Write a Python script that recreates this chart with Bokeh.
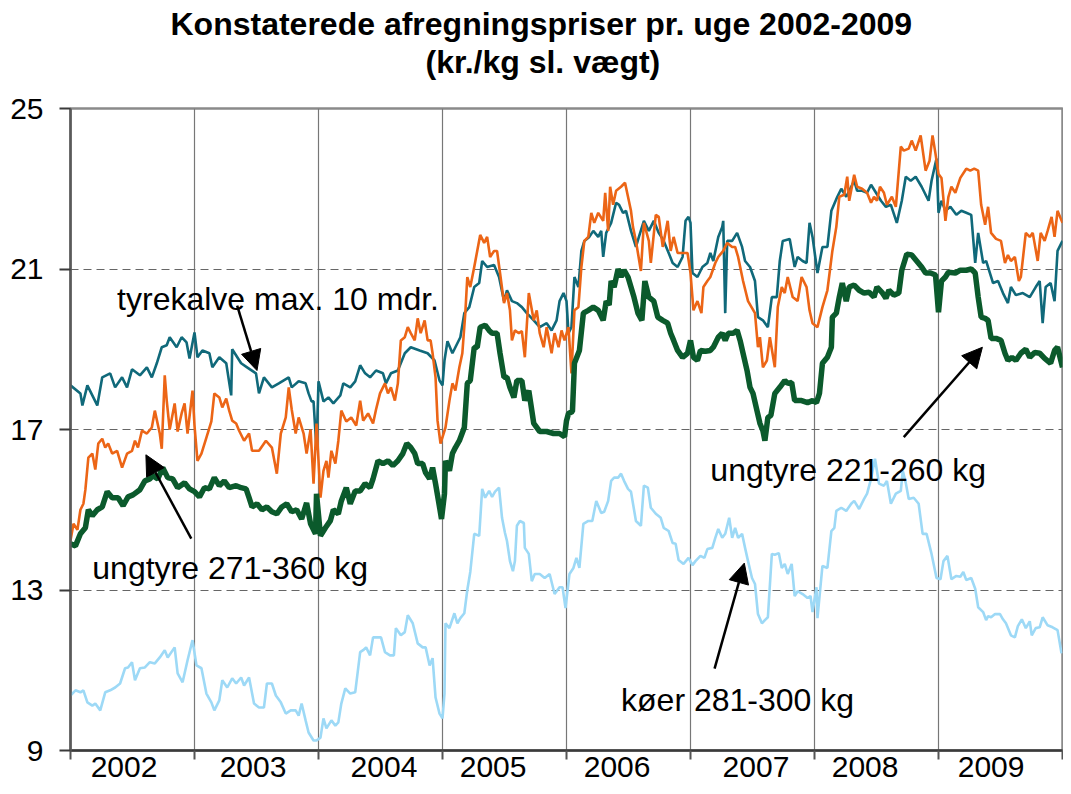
from bokeh.plotting import figure
from bokeh.models import FixedTicker, Label, Arrow, NormalHead, Range1d, Title
from bokeh.embed import file_html
from bokeh.resources import INLINE

# ---------------- data (x = fractional year, y = kr./kg) ----------------
tyrekalve_x = [2002.000, 2002.080, 2002.096, 2002.136, 2002.184, 2002.216, 2002.256, 2002.320, 2002.360, 2002.416,
               2002.456, 2002.496, 2002.560, 2002.616, 2002.656, 2002.696, 2002.736, 2002.776, 2002.800, 2002.856,
               2002.896, 2002.936, 2002.960, 2003.000, 2003.024, 2003.064, 2003.120, 2003.144, 2003.200, 2003.256,
               2003.296, 2003.304, 2003.376, 2003.424, 2003.496, 2003.520, 2003.560, 2003.624, 2003.680, 2003.760,
               2003.784, 2003.840, 2003.896, 2003.920, 2003.944, 2003.960, 2003.984, 2004.000, 2004.040, 2004.080,
               2004.120, 2004.176, 2004.200, 2004.256, 2004.296, 2004.336, 2004.376, 2004.416, 2004.464, 2004.520,
               2004.544, 2004.584, 2004.640, 2004.696, 2004.744, 2004.816, 2004.880, 2004.936, 2004.976, 2005.000,
               2005.016, 2005.040, 2005.080, 2005.104, 2005.144, 2005.176, 2005.216, 2005.256, 2005.296, 2005.320,
               2005.360, 2005.416, 2005.456, 2005.496, 2005.520, 2005.560, 2005.600, 2005.640, 2005.680, 2005.736,
               2005.784, 2005.840, 2005.880, 2005.920, 2005.944, 2005.976, 2006.000, 2006.016, 2006.040, 2006.064,
               2006.096, 2006.120, 2006.144, 2006.184, 2006.216, 2006.256, 2006.280, 2006.296, 2006.320, 2006.360,
               2006.400, 2006.424, 2006.456, 2006.480, 2006.520, 2006.560, 2006.584, 2006.624, 2006.664, 2006.704,
               2006.744, 2006.784, 2006.824, 2006.856, 2006.896, 2006.936, 2006.960, 2006.984, 2007.000, 2007.016,
               2007.056, 2007.096, 2007.136, 2007.160, 2007.184, 2007.224, 2007.256, 2007.264, 2007.280, 2007.296,
               2007.336, 2007.376, 2007.416, 2007.440, 2007.480, 2007.520, 2007.544, 2007.584, 2007.624, 2007.656,
               2007.696, 2007.720, 2007.744, 2007.800, 2007.840, 2007.864, 2007.904, 2007.936, 2007.960, 2007.984,
               2008.024, 2008.064, 2008.104, 2008.136, 2008.184, 2008.216, 2008.256, 2008.320, 2008.344, 2008.384,
               2008.424, 2008.456, 2008.496, 2008.536, 2008.576, 2008.616, 2008.664, 2008.704, 2008.736, 2008.776,
               2008.816, 2008.864, 2008.920, 2008.944, 2008.984, 2009.000, 2009.024, 2009.056, 2009.096, 2009.144,
               2009.184, 2009.224, 2009.264, 2009.296, 2009.320, 2009.360, 2009.384, 2009.440, 2009.480, 2009.520,
               2009.560, 2009.584, 2009.624, 2009.680, 2009.736, 2009.784, 2009.816, 2009.840, 2009.864, 2009.904,
               2009.936, 2009.960, 2010.000]
tyrekalve_y = [18.10, 17.90, 17.60, 18.10, 17.80, 17.60, 18.30, 18.40, 18.05, 18.30,
               18.05, 18.50, 18.35, 18.55, 18.30, 18.65, 19.05, 19.10, 19.30, 19.05,
               19.30, 19.17, 18.77, 19.42, 18.80, 18.97, 18.90, 18.55, 18.80, 18.65,
               17.85, 19.00, 18.65, 18.55, 18.40, 17.90, 18.30, 18.05, 18.15, 18.30,
               18.05, 18.20, 18.15, 17.90, 17.70, 17.70, 16.50, 18.20, 17.70, 17.80,
               17.65, 17.85, 18.15, 18.05, 18.20, 18.60, 18.40, 18.30, 18.47, 18.40,
               18.15, 18.40, 18.47, 18.90, 19.05, 18.97, 18.90, 18.72, 18.22, 18.10,
               18.72, 19.20, 18.90, 19.05, 19.30, 19.90, 20.05, 20.55, 20.65, 21.20,
               21.05, 21.10, 20.80, 20.20, 20.47, 20.20, 20.15, 20.05, 19.90, 19.72,
               19.55, 19.65, 19.47, 19.72, 20.20, 20.40, 20.20, 19.40, 19.55, 20.80,
               20.55, 21.45, 21.70, 21.80, 21.95, 21.80, 21.95, 21.30, 21.90, 22.15,
               22.65, 22.60, 22.40, 22.45, 21.95, 21.55, 21.80, 22.20, 21.95, 22.20,
               21.90, 21.70, 21.40, 21.15, 21.05, 21.30, 22.20, 22.30, 22.15, 20.90,
               20.80, 21.05, 21.15, 21.40, 21.20, 21.80, 22.05, 22.20, 19.90, 21.70,
               21.70, 21.90, 21.55, 21.20, 21.05, 20.70, 19.80, 19.72, 19.55, 20.30,
               20.30, 21.20, 21.70, 21.75, 21.05, 21.30, 21.20, 21.15, 22.15, 21.80,
               20.90, 21.55, 21.55, 22.45, 22.80, 23.00, 22.80, 23.20, 22.95, 22.95,
               22.90, 23.10, 22.90, 22.70, 22.55, 22.60, 22.15, 22.70, 23.30, 23.20,
               23.30, 23.05, 22.70, 23.20, 23.75, 22.40, 22.70, 22.45, 22.55, 22.35,
               22.45, 22.40, 22.35, 21.15, 21.90, 21.15, 21.20, 20.65, 20.70, 20.40,
               20.15, 20.55, 20.35, 20.40, 20.30, 20.55, 20.70, 19.65, 20.55, 20.65,
               20.20, 21.45, 21.70]

ungtyre_271_x = [2002.000, 2002.024, 2002.056, 2002.080, 2002.104, 2002.120, 2002.144, 2002.176, 2002.200, 2002.224,
                 2002.256, 2002.280, 2002.304, 2002.336, 2002.376, 2002.416, 2002.456, 2002.496, 2002.520, 2002.544,
                 2002.576, 2002.616, 2002.656, 2002.680, 2002.720, 2002.736, 2002.760, 2002.776, 2002.800, 2002.840,
                 2002.864, 2002.896, 2002.920, 2002.944, 2002.984, 2003.000, 2003.024, 2003.056, 2003.096, 2003.136,
                 2003.160, 2003.200, 2003.224, 2003.256, 2003.280, 2003.304, 2003.336, 2003.360, 2003.400, 2003.440,
                 2003.464, 2003.520, 2003.576, 2003.624, 2003.664, 2003.696, 2003.736, 2003.760, 2003.784, 2003.816,
                 2003.840, 2003.880, 2003.904, 2003.936, 2003.960, 2003.984, 2004.016, 2004.040, 2004.064, 2004.080,
                 2004.104, 2004.136, 2004.160, 2004.184, 2004.224, 2004.264, 2004.304, 2004.336, 2004.360, 2004.400,
                 2004.440, 2004.464, 2004.496, 2004.536, 2004.560, 2004.584, 2004.616, 2004.640, 2004.664, 2004.696,
                 2004.720, 2004.744, 2004.776, 2004.800, 2004.824, 2004.856, 2004.880, 2004.904, 2004.920, 2004.944,
                 2004.960, 2004.984, 2005.024, 2005.056, 2005.080, 2005.104, 2005.136, 2005.160, 2005.184, 2005.200,
                 2005.224, 2005.256, 2005.280, 2005.304, 2005.336, 2005.360, 2005.384, 2005.416, 2005.440, 2005.464,
                 2005.496, 2005.520, 2005.544, 2005.560, 2005.584, 2005.616, 2005.640, 2005.664, 2005.696, 2005.736,
                 2005.760, 2005.784, 2005.816, 2005.840, 2005.880, 2005.904, 2005.936, 2005.960, 2005.984, 2006.016,
                 2006.040, 2006.064, 2006.096, 2006.120, 2006.144, 2006.176, 2006.200, 2006.224, 2006.256, 2006.296,
                 2006.312, 2006.336, 2006.352, 2006.376, 2006.400, 2006.440, 2006.472, 2006.496, 2006.520, 2006.536,
                 2006.560, 2006.600, 2006.624, 2006.664, 2006.680, 2006.720, 2006.744, 2006.776, 2006.816, 2006.840,
                 2006.864, 2006.896, 2006.936, 2006.976, 2007.000, 2007.024, 2007.056, 2007.088, 2007.104, 2007.136,
                 2007.160, 2007.200, 2007.224, 2007.264, 2007.296, 2007.336, 2007.360, 2007.384, 2007.424, 2007.464,
                 2007.520, 2007.544, 2007.560, 2007.584, 2007.616, 2007.640, 2007.680, 2007.704, 2007.736, 2007.760,
                 2007.784, 2007.824, 2007.864, 2007.896, 2007.936, 2007.960, 2007.984, 2008.024, 2008.064, 2008.104,
                 2008.144, 2008.176, 2008.200, 2008.240, 2008.264, 2008.280, 2008.320, 2008.344, 2008.384, 2008.424,
                 2008.456, 2008.480, 2008.504, 2008.528, 2008.560, 2008.584, 2008.624, 2008.656, 2008.696, 2008.720,
                 2008.760, 2008.784, 2008.816, 2008.856, 2008.896, 2008.928, 2008.952, 2008.976, 2009.000, 2009.024,
                 2009.056, 2009.080, 2009.104, 2009.136, 2009.176, 2009.224, 2009.256, 2009.288, 2009.320, 2009.344,
                 2009.376, 2009.400, 2009.424, 2009.464, 2009.504, 2009.536, 2009.560, 2009.584, 2009.616, 2009.648,
                 2009.664, 2009.704, 2009.736, 2009.760, 2009.800, 2009.824, 2009.856, 2009.880, 2009.912, 2009.936,
                 2009.960, 2010.000]
ungtyre_271_y = [14.23, 14.65, 14.50, 15.00, 15.15, 15.50, 16.30, 16.40, 16.00, 16.65,
                 16.77, 16.55, 16.65, 16.40, 16.47, 16.05, 16.40, 16.47, 16.72, 16.55,
                 16.97, 16.90, 17.05, 17.47, 16.90, 16.52, 18.35, 17.72, 17.00, 17.65,
                 16.95, 17.40, 17.65, 16.90, 17.97, 17.10, 16.22, 16.40, 16.80, 17.20,
                 17.90, 17.80, 17.55, 17.77, 17.47, 17.22, 17.15, 16.97, 16.72, 16.90,
                 16.47, 16.47, 16.72, 16.55, 15.90, 16.90, 17.30, 18.05, 17.50, 16.90,
                 17.30, 16.90, 16.40, 17.00, 15.65, 17.15, 15.30, 15.97, 16.22, 15.80,
                 16.47, 16.15, 16.72, 17.47, 17.20, 17.30, 17.10, 17.72, 17.22, 17.40,
                 17.15, 17.50, 17.90, 18.15, 17.90, 18.05, 17.72, 18.15, 19.22, 19.30,
                 19.55, 19.40, 19.22, 19.77, 19.40, 19.72, 19.22, 19.22, 18.90, 18.30,
                 17.22, 16.65, 17.05, 17.72, 18.15, 17.97, 18.55, 18.90, 19.90, 20.80,
                 20.55, 21.05, 21.45, 21.85, 21.65, 21.80, 21.30, 21.45, 21.45, 20.90,
                 20.15, 20.40, 19.97, 19.22, 19.47, 19.40, 19.45, 18.80, 20.40, 19.72,
                 19.97, 19.40, 19.05, 19.55, 18.90, 19.40, 19.05, 19.47, 19.22, 19.55,
                 18.40, 19.97, 20.05, 21.05, 21.70, 21.80, 22.40, 22.15, 22.40, 22.20,
                 22.90, 21.95, 23.05, 22.60, 22.95, 23.05, 23.15, 22.80, 22.45, 22.05,
                 21.70, 20.95, 22.15, 21.70, 21.15, 22.35, 22.30, 21.55, 22.20, 21.45,
                 21.80, 21.40, 21.40, 21.40, 20.90, 19.97, 20.20, 19.90, 20.55, 20.70,
                 20.80, 21.15, 21.30, 21.45, 21.65, 21.55, 21.55, 21.30, 20.70, 20.20,
                 19.90, 19.05, 19.30, 18.55, 18.72, 19.30, 18.55, 20.05, 20.55, 20.40,
                 20.80, 20.30, 20.20, 20.80, 20.55, 19.97, 19.65, 19.55, 20.05, 20.47,
                 21.45, 22.05, 22.80, 22.85, 23.30, 22.70, 23.35, 23.05, 23.00, 22.90,
                 22.65, 22.80, 22.70, 23.05, 22.90, 22.60, 22.80, 22.55, 24.05, 23.95,
                 24.00, 24.20, 23.95, 24.33, 23.45, 23.70, 24.33, 23.87, 23.37, 23.27,
                 22.20, 22.80, 23.05, 22.90, 23.27, 23.50, 23.45, 23.50, 23.45, 22.60,
                 22.10, 22.55, 21.90, 21.75, 21.70, 21.15, 21.35, 21.20, 21.30, 20.70,
                 20.80, 21.90, 21.80, 21.90, 21.20, 21.90, 21.70, 21.95, 22.30, 21.80,
                 22.45, 22.15]

ungtyre_221_x = [2002.000, 2002.040, 2002.080, 2002.120, 2002.144, 2002.176, 2002.216, 2002.256, 2002.296, 2002.336,
                 2002.384, 2002.424, 2002.464, 2002.504, 2002.560, 2002.600, 2002.640, 2002.664, 2002.704, 2002.744,
                 2002.784, 2002.824, 2002.864, 2002.920, 2002.960, 2003.000, 2003.040, 2003.080, 2003.120, 2003.160,
                 2003.200, 2003.240, 2003.280, 2003.336, 2003.376, 2003.416, 2003.440, 2003.464, 2003.504, 2003.544,
                 2003.584, 2003.624, 2003.664, 2003.704, 2003.744, 2003.784, 2003.824, 2003.864, 2003.904, 2003.936,
                 2003.976, 2003.984, 2004.016, 2004.056, 2004.096, 2004.120, 2004.160, 2004.184, 2004.224, 2004.256,
                 2004.296, 2004.336, 2004.376, 2004.416, 2004.440, 2004.480, 2004.520, 2004.560, 2004.600, 2004.640,
                 2004.680, 2004.712, 2004.744, 2004.776, 2004.800, 2004.840, 2004.864, 2004.896, 2004.920, 2004.944,
                 2004.976, 2004.992, 2005.016, 2005.024, 2005.056, 2005.080, 2005.104, 2005.136, 2005.176, 2005.200,
                 2005.224, 2005.256, 2005.280, 2005.304, 2005.344, 2005.376, 2005.400, 2005.440, 2005.464, 2005.496,
                 2005.520, 2005.544, 2005.576, 2005.600, 2005.640, 2005.664, 2005.696, 2005.736, 2005.784, 2005.840,
                 2005.896, 2005.944, 2005.984, 2006.000, 2006.016, 2006.048, 2006.064, 2006.104, 2006.136, 2006.176,
                 2006.216, 2006.256, 2006.296, 2006.320, 2006.344, 2006.360, 2006.384, 2006.416, 2006.440, 2006.464,
                 2006.496, 2006.520, 2006.544, 2006.576, 2006.608, 2006.632, 2006.664, 2006.704, 2006.736, 2006.776,
                 2006.816, 2006.840, 2006.864, 2006.896, 2006.936, 2006.976, 2007.000, 2007.024, 2007.056, 2007.080,
                 2007.120, 2007.160, 2007.184, 2007.224, 2007.256, 2007.280, 2007.304, 2007.344, 2007.376, 2007.400,
                 2007.424, 2007.456, 2007.480, 2007.504, 2007.536, 2007.560, 2007.584, 2007.600, 2007.624, 2007.648,
                 2007.680, 2007.720, 2007.760, 2007.784, 2007.816, 2007.840, 2007.896, 2007.944, 2007.984, 2008.016,
                 2008.040, 2008.064, 2008.104, 2008.136, 2008.144, 2008.176, 2008.200, 2008.224, 2008.256, 2008.280,
                 2008.320, 2008.360, 2008.400, 2008.440, 2008.480, 2008.504, 2008.544, 2008.576, 2008.600, 2008.640,
                 2008.680, 2008.704, 2008.744, 2008.784, 2008.824, 2008.864, 2008.896, 2008.936, 2008.976, 2009.000,
                 2009.024, 2009.056, 2009.080, 2009.136, 2009.176, 2009.224, 2009.264, 2009.296, 2009.320, 2009.344,
                 2009.376, 2009.400, 2009.424, 2009.464, 2009.504, 2009.536, 2009.560, 2009.592, 2009.624, 2009.664,
                 2009.704, 2009.736, 2009.776, 2009.816, 2009.856, 2009.904, 2009.936, 2009.960, 2010.000]
ungtyre_221_y = [14.15, 14.10, 14.40, 14.55, 15.00, 14.85, 15.00, 15.07, 15.45, 15.30,
                 15.30, 15.10, 15.32, 15.37, 15.50, 15.72, 15.77, 15.85, 15.77, 16.05,
                 15.80, 15.77, 15.55, 15.67, 15.52, 15.45, 15.32, 15.55, 15.52, 15.80,
                 15.60, 15.72, 15.55, 15.60, 15.55, 15.52, 15.30, 15.07, 15.15, 15.00,
                 15.07, 14.95, 14.90, 15.07, 15.15, 14.95, 15.00, 14.77, 15.17, 14.65,
                 14.40, 15.40, 14.35, 14.55, 14.73, 15.00, 14.90, 15.22, 15.55, 15.15,
                 15.47, 15.47, 15.65, 15.55, 15.77, 16.22, 16.15, 16.22, 16.10, 16.22,
                 16.40, 16.65, 16.55, 16.40, 16.15, 16.15, 15.92, 15.77, 16.05, 15.65,
                 15.07, 14.77, 15.40, 16.22, 15.97, 16.40, 16.55, 16.72, 17.05, 18.15,
                 18.22, 19.05, 19.05, 19.55, 19.60, 19.47, 19.40, 19.40, 18.90, 18.30,
                 18.30, 18.05, 17.80, 18.22, 18.22, 17.72, 17.97, 17.15, 16.95, 16.95,
                 16.90, 16.90, 16.82, 17.22, 17.40, 17.45, 18.65, 18.97, 19.90, 19.97,
                 20.05, 19.97, 19.72, 20.20, 20.10, 20.70, 20.55, 21.00, 20.80, 20.97,
                 20.80, 20.55, 20.30, 19.90, 19.72, 20.70, 20.30, 20.20, 19.80, 19.72,
                 19.65, 19.40, 19.22, 18.97, 18.80, 18.90, 19.22, 18.80, 18.72, 18.97,
                 18.95, 18.97, 19.05, 19.30, 19.40, 19.22, 19.40, 19.40, 19.47, 19.22,
                 18.90, 18.47, 18.05, 17.90, 17.47, 17.15, 16.97, 16.72, 17.30, 17.35,
                 17.90, 18.05, 18.22, 18.15, 18.17, 17.72, 17.72, 17.67, 17.72, 17.67,
                 17.90, 18.65, 18.80, 19.05, 19.80, 19.90, 20.30, 20.65, 20.20, 20.55,
                 20.60, 20.47, 20.40, 20.42, 20.30, 20.55, 20.42, 20.27, 20.47, 20.35,
                 20.40, 20.97, 21.37, 21.35, 21.20, 21.05, 20.90, 20.90, 20.85, 19.92,
                 20.70, 20.80, 20.92, 20.90, 20.97, 20.97, 21.00, 20.90, 20.30, 19.80,
                 19.77, 19.72, 19.27, 19.27, 19.22, 18.90, 18.72, 18.80, 18.72, 18.90,
                 19.00, 18.80, 18.92, 18.90, 18.77, 18.65, 18.97, 19.05, 18.55]

koeer_x = [2002.000, 2002.040, 2002.080, 2002.104, 2002.136, 2002.176, 2002.200, 2002.240, 2002.280, 2002.320,
           2002.360, 2002.400, 2002.440, 2002.464, 2002.496, 2002.520, 2002.560, 2002.600, 2002.640, 2002.680,
           2002.720, 2002.760, 2002.784, 2002.840, 2002.864, 2002.904, 2002.944, 2002.984, 2003.016, 2003.056,
           2003.096, 2003.136, 2003.160, 2003.200, 2003.224, 2003.264, 2003.304, 2003.336, 2003.376, 2003.400,
           2003.440, 2003.480, 2003.520, 2003.560, 2003.584, 2003.624, 2003.656, 2003.696, 2003.736, 2003.776,
           2003.816, 2003.840, 2003.864, 2003.896, 2003.920, 2003.960, 2003.984, 2004.016, 2004.040, 2004.064,
           2004.104, 2004.136, 2004.160, 2004.184, 2004.216, 2004.256, 2004.296, 2004.336, 2004.360, 2004.384,
           2004.416, 2004.440, 2004.504, 2004.536, 2004.576, 2004.608, 2004.624, 2004.664, 2004.696, 2004.720,
           2004.760, 2004.800, 2004.840, 2004.864, 2004.896, 2004.920, 2004.944, 2004.976, 2005.000, 2005.016,
           2005.024, 2005.056, 2005.096, 2005.120, 2005.144, 2005.176, 2005.200, 2005.224, 2005.256, 2005.296,
           2005.320, 2005.344, 2005.376, 2005.400, 2005.424, 2005.456, 2005.480, 2005.504, 2005.520, 2005.544,
           2005.568, 2005.584, 2005.600, 2005.624, 2005.656, 2005.664, 2005.696, 2005.720, 2005.744, 2005.784,
           2005.824, 2005.864, 2005.904, 2005.944, 2005.968, 2005.992, 2006.024, 2006.056, 2006.080, 2006.104,
           2006.136, 2006.176, 2006.208, 2006.240, 2006.280, 2006.304, 2006.336, 2006.360, 2006.384, 2006.416,
           2006.440, 2006.464, 2006.496, 2006.520, 2006.560, 2006.600, 2006.624, 2006.656, 2006.680, 2006.720,
           2006.760, 2006.784, 2006.824, 2006.856, 2006.880, 2006.904, 2006.944, 2006.984, 2007.016, 2007.040,
           2007.080, 2007.112, 2007.136, 2007.176, 2007.200, 2007.224, 2007.256, 2007.280, 2007.312, 2007.336,
           2007.360, 2007.384, 2007.416, 2007.440, 2007.464, 2007.496, 2007.520, 2007.544, 2007.576, 2007.600,
           2007.624, 2007.656, 2007.680, 2007.712, 2007.736, 2007.760, 2007.784, 2007.816, 2007.840, 2007.864,
           2007.904, 2007.944, 2007.968, 2007.984, 2008.016, 2008.024, 2008.064, 2008.104, 2008.136, 2008.160,
           2008.176, 2008.216, 2008.256, 2008.296, 2008.320, 2008.360, 2008.400, 2008.424, 2008.456, 2008.488,
           2008.520, 2008.560, 2008.584, 2008.616, 2008.656, 2008.696, 2008.712, 2008.736, 2008.760, 2008.800,
           2008.840, 2008.872, 2008.904, 2008.944, 2008.984, 2009.016, 2009.040, 2009.072, 2009.104, 2009.144,
           2009.176, 2009.200, 2009.224, 2009.264, 2009.296, 2009.320, 2009.360, 2009.384, 2009.400, 2009.424,
           2009.456, 2009.496, 2009.520, 2009.544, 2009.584, 2009.616, 2009.640, 2009.672, 2009.704, 2009.736,
           2009.752, 2009.784, 2009.816, 2009.840, 2009.880, 2009.920, 2009.960, 2009.992]
koeer_y = [10.37, 10.50, 10.45, 10.50, 10.20, 10.12, 10.17, 10.00, 10.45, 10.50,
           10.57, 10.67, 11.05, 11.07, 11.20, 10.75, 11.05, 11.07, 11.20, 11.17,
           11.32, 11.50, 11.32, 11.57, 10.92, 10.70, 11.25, 11.75, 11.12, 11.05,
           10.42, 10.20, 10.00, 10.25, 10.75, 10.57, 10.80, 10.67, 10.82, 10.62,
           10.82, 10.17, 10.07, 10.07, 10.67, 10.67, 10.37, 10.20, 9.92, 10.00,
           10.00, 9.87, 10.17, 9.75, 9.45, 9.25, 9.25, 9.32, 9.80, 9.55,
           9.75, 9.62, 9.70, 10.17, 10.55, 10.42, 10.45, 11.45, 11.50, 11.57,
           11.37, 11.82, 11.82, 11.45, 11.37, 11.37, 12.05, 11.87, 11.95, 12.37,
           12.17, 11.67, 11.57, 11.57, 11.12, 11.30, 10.32, 9.92, 9.80, 10.42,
           12.17, 12.05, 12.42, 12.17, 12.30, 12.42, 13.00, 13.45, 14.40, 14.35,
           15.52, 15.30, 15.47, 15.32, 15.45, 15.55, 14.80, 14.42, 14.22, 13.72,
           13.47, 13.72, 14.60, 14.72, 14.67, 14.05, 13.90, 13.22, 13.40, 13.40,
           13.30, 13.40, 12.90, 13.07, 13.07, 12.55, 13.40, 13.55, 13.80, 13.55,
           14.65, 14.72, 14.72, 15.22, 14.92, 14.95, 15.22, 15.72, 15.80, 15.80,
           15.90, 15.72, 15.52, 15.45, 14.72, 14.60, 15.60, 15.55, 15.05, 14.90,
           14.80, 14.55, 14.47, 14.17, 14.15, 13.75, 13.65, 13.80, 13.62, 13.72,
           13.85, 13.80, 14.02, 14.05, 14.30, 14.52, 14.30, 14.40, 14.80, 14.30,
           14.55, 14.30, 14.40, 14.05, 13.72, 13.30, 13.15, 12.40, 12.17, 12.25,
           12.32, 13.90, 13.88, 13.92, 13.55, 13.65, 13.40, 13.65, 12.85, 12.97,
           12.90, 12.80, 12.85, 12.45, 13.07, 12.30, 13.60, 13.55, 14.47, 14.55,
           14.97, 15.05, 14.97, 15.15, 15.22, 15.02, 15.27, 15.40, 15.77, 16.27,
           15.65, 15.60, 15.72, 15.15, 15.40, 15.47, 15.97, 15.67, 15.27, 15.30,
           15.15, 14.40, 14.40, 13.90, 13.30, 13.27, 13.72, 13.85, 13.27, 13.35,
           13.33, 13.45, 13.25, 13.30, 13.03, 12.57, 12.45, 12.25, 12.35, 12.32,
           12.40, 12.40, 12.27, 12.17, 11.87, 11.82, 12.10, 12.27, 12.05, 12.22,
           11.87, 12.05, 12.07, 12.32, 12.12, 12.07, 12.00, 11.42]

years = ["2002", "2003", "2004", "2005", "2006", "2007", "2008", "2009"]
year_label_pos = [2002.432, 2003.472, 2004.528, 2005.408, 2006.408, 2007.528, 2008.408, 2009.424]
year_bounds = [2002, 2003, 2004, 2005, 2006, 2007, 2008, 2009, 2010]
y_ticks = [9, 13, 17, 21, 25]

FONT = "Liberation Sans"

p = figure(width=1063, height=786, x_range=Range1d(2002, 2010), y_range=Range1d(9, 25),
           output_backend="svg", toolbar_location=None,
           min_border_left=70, min_border_right=1, min_border_top=108, min_border_bottom=36)
p.background_fill_color = "white"
p.border_fill_color = "white"
p.outline_line_color = "#8a8a8a"
p.outline_line_width = 2.5

# title: a small spacer next to the frame, then the two bold lines
spacer = Title(text=" ", text_font=FONT, text_font_size="10px", standoff=16)
t2 = Title(text="(kr./kg sl. vægt)", align="left", offset=355, text_font=FONT,
           text_font_style="bold", text_font_size="32px", text_color="black", standoff=0)
t1 = Title(text="Konstaterede afregningspriser pr. uge 2002-2009", align="left", offset=100,
           text_font=FONT, text_font_style="bold", text_font_size="32px", text_color="black", standoff=0)
p.add_layout(spacer, "above")
p.add_layout(t2, "above")
p.add_layout(t1, "above")

# axes
p.xaxis.ticker = FixedTicker(ticks=year_label_pos, minor_ticks=year_bounds)
p.xaxis.major_label_overrides = {pos: lab for pos, lab in zip(year_label_pos, years)}
p.xaxis.major_tick_line_color = None
p.xaxis.major_tick_out = 0
p.xaxis.minor_tick_line_color = "#555555"
p.xaxis.minor_tick_line_width = 2
p.xaxis.minor_tick_out = 9
p.xaxis.minor_tick_in = 0
p.xaxis.major_label_standoff = -3
p.xaxis.axis_line_color = "#3a3a3a"
p.xaxis.axis_line_width = 2.5
p.xaxis.major_label_text_font = FONT
p.xaxis.major_label_text_font_size = "30px"
p.xaxis.major_label_text_color = "black"

p.yaxis.ticker = FixedTicker(ticks=y_ticks)
p.yaxis.minor_tick_line_color = None
p.yaxis.major_tick_out = 11
p.yaxis.major_tick_in = 0
p.yaxis.major_tick_line_color = "#3a3a3a"
p.yaxis.major_tick_line_width = 2
p.yaxis.major_label_standoff = 16
p.yaxis.axis_line_color = "#5a5a5a"
p.yaxis.axis_line_width = 2.5
p.yaxis.major_label_text_font = FONT
p.yaxis.major_label_text_font_size = "30px"
p.yaxis.major_label_text_color = "black"

# grids
p.xgrid.ticker = FixedTicker(ticks=year_bounds[1:-1])
p.xgrid.grid_line_color = "#777777"
p.xgrid.grid_line_width = 1.2
p.ygrid.ticker = FixedTicker(ticks=[13, 17, 21])
p.ygrid.grid_line_color = "#666666"
p.ygrid.grid_line_width = 1.2
p.ygrid.grid_line_dash = "8 5"

# series
p.line(tyrekalve_x, tyrekalve_y, line_color="#10697a", line_width=2.6)
p.line(ungtyre_271_x, ungtyre_271_y, line_color="#ec6516", line_width=2.6)
p.line(ungtyre_221_x, ungtyre_221_y, line_color="#0b5a2c", line_width=5.5)
p.line(koeer_x, koeer_y, line_color="#9dd9f6", line_width=2.6)

# annotations
labels = [
    ("tyrekalve max. 10 mdr.", 2002.376, 20.24),
    ("ungtyre 271-360 kg", 2002.176, 13.54),
    ("ungtyre 221-260 kg", 2007.160, 16.00),
    ("køer 281-300 kg", 2006.440, 10.25),
]
for txt, lx, ly in labels:
    p.add_layout(Label(x=lx, y=ly, text=txt, text_font=FONT, text_font_size="32px",
                       text_color="black", text_baseline="alphabetic", text_align="left"))

arrows = [
    (2003.344, 20.09, 2003.504, 18.47),
    (2002.974, 14.28, 2002.608, 16.37),
    (2008.720, 16.81, 2009.354, 19.05),
    (2007.194, 11.04, 2007.434, 13.67),
]
for xs, ys, xe, ye in arrows:
    p.add_layout(Arrow(x_start=xs, y_start=ys, x_end=xe, y_end=ye, line_color="black", line_width=2.5,
                       end=NormalHead(size=20, fill_color="black", line_color="black", line_width=1)))

open("out.html", "w").write(file_html(p, INLINE))
